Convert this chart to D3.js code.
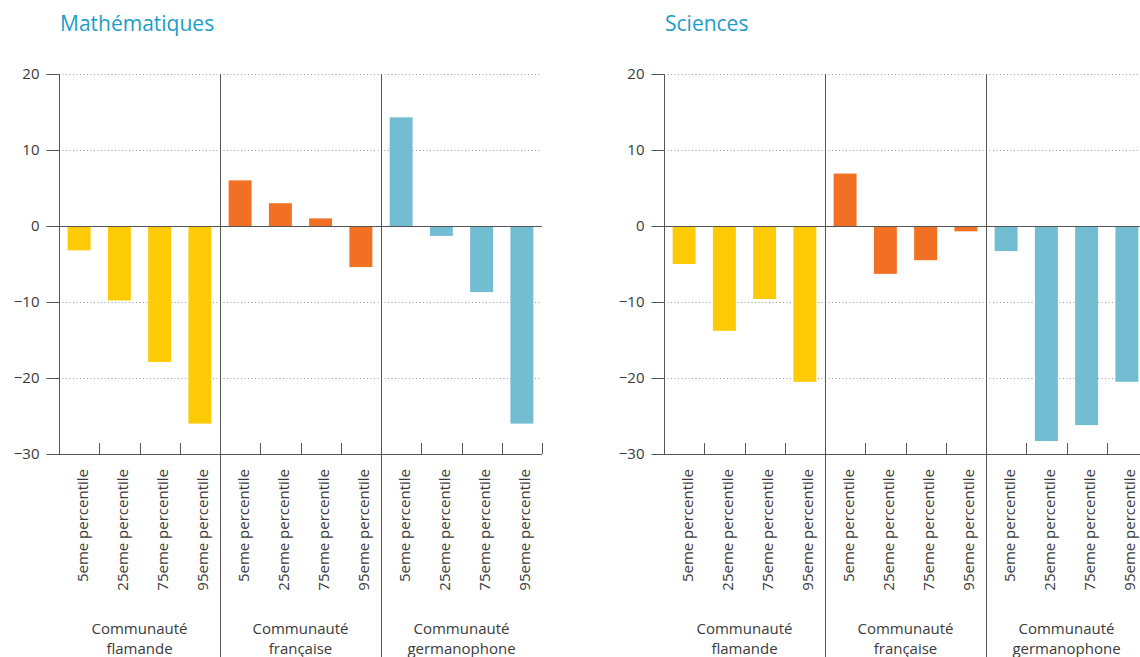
<!DOCTYPE html>
<html><head><meta charset="utf-8">
<script src="https://cdn.jsdelivr.net/npm/d3@7"></script>
<style>
body{margin:0;background:#fff;}
text{font-family:"Open Sans",sans-serif;fill:#3a3a3a;}
</style></head>
<body><svg id="c" width="1140" height="657"></svg>
<script>
const panels = ["Mathématiques", "Sciences"];
const groups = ["Communauté flamande", "Communauté française", "Communauté germanophone"];
const groupLines = [["Communauté","flamande"],["Communauté","française"],["Communauté","germanophone"]];
const percentiles = ["5eme percentile", "25eme percentile", "75eme percentile", "95eme percentile"];
const yTicks = [20, 10, 0, -10, -20, -30];
const mathValues = [
  [-3.2, -9.8, -17.9, -26.0],
  [6.0, 3.0, 1.0, -5.4],
  [14.3, -1.3, -8.7, -26.0]
];
const sciValues = [
  [-5.0, -13.8, -9.6, -20.5],
  [6.9, -6.3, -4.5, -0.7],
  [-3.3, -28.3, -26.2, -20.5]
];
const groupColors = ["#FDCB06", "#F27024", "#73BDD3"];

const svg = d3.select("#c");
const W = 483;
const y = d3.scaleLinear().domain([-30, 20]).range([454, 74]);
const keys = [];
groups.forEach((g,gi)=>percentiles.forEach((p,pi)=>keys.push(gi+"|"+pi)));
const x = d3.scaleBand().domain(keys).range([0, W]).paddingInner(0.43).paddingOuter(0.215);
const step = x.step();
const lineCol = "#555";

function drawPanel(title, values, ox) {
  const g = svg.append("g").attr("transform", `translate(${ox},0)`);
  g.append("text").attr("x", 1).attr("y", 31).attr("font-size", 21).style("fill", "#1C9DC8").text(title);
  // gridlines
  g.selectAll(".grid").data(yTicks.filter(t => t !== 0 && t !== -30)).join("line")
    .attr("x1", 0).attr("x2", W).attr("y1", d => y(d) + 0.5).attr("y2", d => y(d) + 0.5)
    .attr("stroke", "#999").attr("stroke-dasharray", "1,2.5");
  // bars
  const data = [];
  values.forEach((arr, gi) => arr.forEach((v, pi) => data.push({k: gi + "|" + pi, v, gi})));
  g.selectAll(".bar").data(data).join("rect")
    .attr("x", d => x(d.k)).attr("width", x.bandwidth())
    .attr("y", d => y(Math.max(0, d.v))).attr("height", d => Math.abs(y(d.v) - y(0)))
    .attr("fill", d => groupColors[d.gi]);
  // y axis
  const ax = d3.axisLeft(y).tickValues(yTicks).tickSize(13).tickPadding(7).tickFormat(d3.format("d"));
  const ga = g.append("g").attr("transform", "translate(0.5,0)").call(ax);
  ga.select(".domain").remove();
  ga.selectAll(".tick line").attr("stroke", lineCol);
  ga.selectAll(".tick text").attr("font-size", 15).style("fill", "#3a3a3a").attr("font-family", "Open Sans, sans-serif");
  g.append("line").attr("x1", 0.5).attr("x2", 0.5).attr("y1", y(20)).attr("y2", y(-30)).attr("stroke", lineCol);
  // zero line and baseline
  g.append("line").attr("x1", 0).attr("x2", W).attr("y1", y(0) + 0.5).attr("y2", y(0) + 0.5).attr("stroke", lineCol);
  g.append("line").attr("x1", 0).attr("x2", W).attr("y1", y(-30) + 0.5).attr("y2", y(-30) + 0.5).attr("stroke", lineCol);
  // category ticks
  const tickXs = [];
  for (let i = 1; i <= keys.length; i++) if (i % 4 !== 0 || i === keys.length) tickXs.push(i * step);
  g.selectAll(".ct").data(tickXs).join("line")
    .attr("x1", d => Math.round(d) + 0.5).attr("x2", d => Math.round(d) + 0.5)
    .attr("y1", y(-30)).attr("y2", y(-30) - 11).attr("stroke", lineCol);
  // group separators
  g.selectAll(".sep").data([1, 2]).join("line")
    .attr("x1", d => Math.round(d * 4 * step) + 0.5).attr("x2", d => Math.round(d * 4 * step) + 0.5)
    .attr("y1", y(20)).attr("y2", 657).attr("stroke", lineCol);
  // category labels
  g.selectAll(".cl").data(keys).join("text")
    .attr("transform", d => `translate(${x(d) + x.bandwidth() / 2},469) rotate(-90)`)
    .attr("text-anchor", "end").attr("dy", 8.5).attr("font-size", 15)
    .text(d => percentiles[+d.split("|")[1]]);
  // group labels
  groupLines.forEach((lines, gi) => {
    const cx = (gi * 4 + 2) * step;
    lines.forEach((l, li) => {
      g.append("text").attr("x", cx).attr("y", 634 + li * 20).attr("text-anchor", "middle")
        .attr("font-size", 15).text(l);
    });
  });
}
drawPanel(panels[0], mathValues, 59);
drawPanel(panels[1], sciValues, 664);
</script></body></html>
